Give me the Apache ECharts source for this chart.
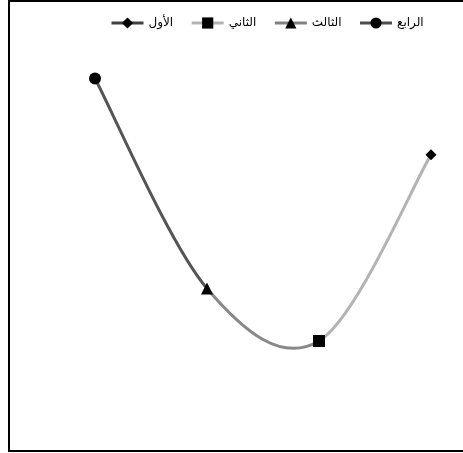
<!DOCTYPE html>
<html><head><meta charset="utf-8">
<style>html,body{margin:0;padding:0;background:#fff}#c{width:463px;height:453px}</style>
<script src="https://cdn.jsdelivr.net/npm/echarts@6/dist/echarts.min.js"></script>
</head><body><div id="c"></div>
<script>
var categories = ['الأول', 'الثاني', 'الثالث', 'الرابع'];
var values = [55.5, 20, 30, 70];
var symbols = ['diamond', 'rect', 'triangle', 'circle'];
var symbolSizes = [11, 12, 12, 12];
var lineColors = ['#404040', '#b3b3b3', '#808080', '#4d4d4d'];
var segmentColors = ['#b3b3b3', '#888888', '#555555'];

var chart = echarts.init(document.getElementById('c'));

function renderCurve(params, api) {
  if (params.dataIndex !== 0) return null;
  var pts = values.map(function (v, i) { return api.coord([i, v]); });
  var n = pts.length, children = [];
  for (var i = 0; i < n - 1; i++) {
    var p0 = pts[Math.max(i - 1, 0)], p1 = pts[i], p2 = pts[i + 1], p3 = pts[Math.min(i + 2, n - 1)];
    children.push({
      type: 'bezierCurve',
      shape: {
        x1: p1[0], y1: p1[1], x2: p2[0], y2: p2[1],
        cpx1: p1[0] + (p2[0] - p0[0]) / 6, cpy1: p1[1] + (p2[1] - p0[1]) / 6,
        cpx2: p2[0] - (p3[0] - p1[0]) / 6, cpy2: p2[1] - (p3[1] - p1[1]) / 6
      },
      style: { fill: null, stroke: segmentColors[i], lineWidth: 3 }
    });
  }
  return { type: 'group', children: children };
}

var series = [{
  name: 'curve', type: 'custom', renderItem: renderCurve,
  data: values.map(function (v, i) { return [i, v]; }), z: 2, silent: true
}];
categories.forEach(function (name, i) {
  series.push({
    name: name, type: 'line', symbol: symbols[i], symbolSize: symbolSizes[i],
    showSymbol: true, showAllSymbol: true,
    itemStyle: { color: '#000' },
    lineStyle: { color: lineColors[i], width: 3 },
    data: values.map(function (v, j) { return j === i ? v : '-'; }),
    z: 3
  });
});
chart.setOption({
  animation: false,
  backgroundColor: '#fff',
  graphic: [{ type: 'rect', shape: { x: 9, y: 1, width: 470, height: 450 },
    style: { fill: 'none', stroke: '#000', lineWidth: 2 }, silent: true }],
  legend: {
    data: categories, top: 12, left: 105, itemWidth: 32, itemHeight: 14, itemGap: 17,
    lineStyle: { width: 3 },
    textStyle: { fontSize: 12, color: '#000', fontFamily: 'DejaVu Sans' }
  },
  grid: { left: 95, right: 32, top: 26, bottom: 7 },
  xAxis: { type: 'category', data: categories, inverse: true, boundaryGap: false, show: false },
  yAxis: { type: 'value', min: 0, max: 80, show: false },
  series: series
});
</script></body></html>
